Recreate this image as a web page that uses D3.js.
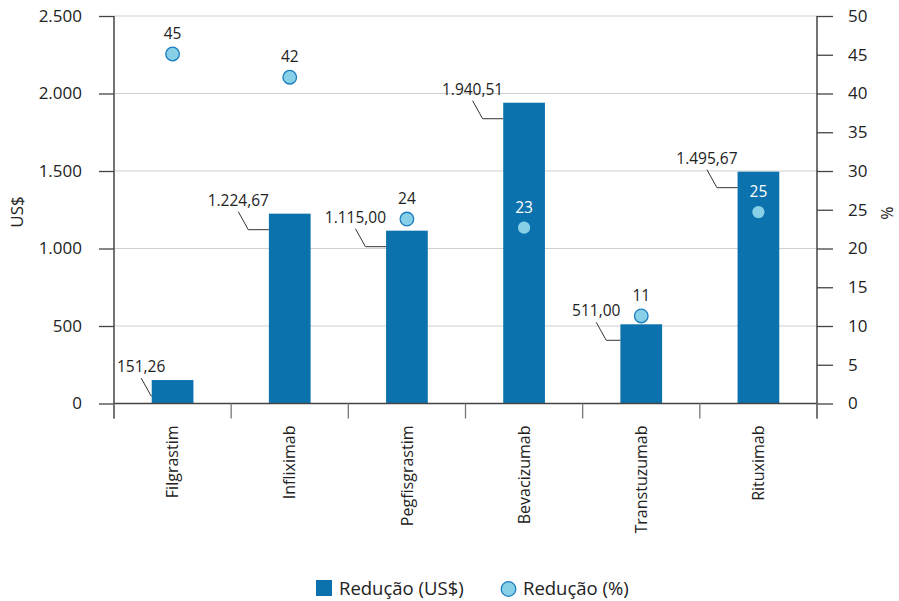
<!DOCTYPE html>
<html>
<head>
<meta charset="utf-8">
<script src="https://cdn.jsdelivr.net/npm/d3@7/dist/d3.min.js"></script>
<style>
  html, body { margin: 0; padding: 0; background: #fff; }
  svg { display: block; font-family: "Open Sans", "Noto Sans", sans-serif; }
</style>
</head>
<body>
<div id="chart"></div>
<script>
// ---- data ----
const categories = ["Filgrastim", "Infliximab", "Pegfisgrastim", "Bevacizumab", "Transtuzumab", "Rituximab"];
const reductionUSD = [151.26, 1224.67, 1115.00, 1940.51, 511.00, 1495.67];
const reductionPct = [45.1, 42.1, 23.8, 22.7, 11.3, 24.7];
const pctLabels = ["45", "42", "24", "23", "11", "25"];
const leftTicks = [0, 500, 1000, 1500, 2000, 2500];
const rightTicks = [0, 5, 10, 15, 20, 25, 30, 35, 40, 45, 50];
const seriesNames = ["Redução (US$)", "Redução (%)"];
const axisTitles = ["US$", "%"];

// ---- layout ----
const W = 899, H = 601;
const x0 = 114, x1 = 817, yTop = 16, yBase = 403.5;
const barColor = "#0b72ad", ptFill = "#88cfe8", ptStroke = "#1a7dbf";
const txt = "#222";

const ptBR = d3.formatLocale({decimal: ",", thousands: ".", grouping: [3], currency: ["", ""]});
const fmtVal = ptBR.format(",.2f");
const fmtTick = ptBR.format(",.0f");

const svg = d3.select("#chart").append("svg").attr("width", W).attr("height", H);

const x = d3.scaleBand().domain(categories).range([x0, x1]).padding(0);
const yL = d3.scaleLinear().domain([0, 2500]).range([yBase, yTop]);
const yR = d3.scaleLinear().domain([0, 50]).range([yBase, yTop]);
const bw = x.bandwidth() * 0.356;

// gridlines
svg.append("g").selectAll("line").data(leftTicks.filter(d => d > 0)).join("line")
  .attr("x1", x0).attr("x2", x1).attr("y1", d => yL(d)).attr("y2", d => yL(d))
  .attr("stroke", "#cfcfcf").attr("stroke-width", 1);

// bars
const barsG = svg.append("g");
categories.forEach((c, i) => {
  const v = reductionUSD[i];
  barsG.append("rect")
    .attr("x", x(c) + x.bandwidth() / 2 - bw / 2)
    .attr("y", yL(v))
    .attr("width", bw)
    .attr("height", yBase - yL(v))
    .attr("fill", barColor);
});

// axes
const axisColor = "#444";
const gL = svg.append("g").attr("transform", `translate(${x0},0)`)
  .call(d3.axisLeft(yL).tickValues(leftTicks).tickSize(15).tickPadding(17).tickFormat(fmtTick));
const gR = svg.append("g").attr("transform", `translate(${x1},0)`)
  .call(d3.axisRight(yR).tickValues(rightTicks).tickSize(16).tickPadding(15).tickFormat(d3.format("d")));
[gL, gR].forEach(g => {
  g.select(".domain").remove();
  g.selectAll("line").attr("stroke", axisColor).attr("stroke-width", 1.3);
  g.selectAll("text").attr("fill", txt).attr("font-size", 17).attr("font-family", "'Open Sans', sans-serif");
});
// vertical axis lines (extend below baseline)
svg.append("line").attr("x1", x0).attr("x2", x0).attr("y1", yTop).attr("y2", yBase + 15)
  .attr("stroke", axisColor).attr("stroke-width", 1.5);
svg.append("line").attr("x1", x1).attr("x2", x1).attr("y1", yTop).attr("y2", yBase + 15)
  .attr("stroke", axisColor).attr("stroke-width", 1.5);

// bottom axis
const gB = svg.append("g").attr("transform", `translate(0,${yBase})`)
  .call(d3.axisBottom(x).tickSize(0).tickPadding(0));
gB.select(".domain").remove();
gB.selectAll(".tick line").remove();
gB.selectAll(".tick text")
  .attr("transform", "translate(0,22) rotate(-90)")
  .attr("text-anchor", "end").attr("dy", "0.35em").attr("y", 0).attr("x", 0)
  .attr("fill", txt).attr("font-size", 16).attr("font-family", "'Open Sans', sans-serif");
svg.append("line").attr("x1", x0).attr("x2", x1).attr("y1", yBase).attr("y2", yBase)
  .attr("stroke", axisColor).attr("stroke-width", 1.5);
// band boundary ticks
const bounds = categories.map(c => x(c)).concat([x1]);
svg.append("g").selectAll("line").data(bounds).join("line")
  .attr("x1", d => d).attr("x2", d => d).attr("y1", yBase).attr("y2", yBase + 15)
  .attr("stroke", "#777").attr("stroke-width", 1.3);

// bar value labels with leader lines
const lab = svg.append("g");
categories.forEach((c, i) => {
  const v = reductionUSD[i];
  const left = x(c) + x.bandwidth() / 2 - bw / 2;
  const top = yL(v);
  const base = top - 8;
  const t = lab.append("text").text(fmtVal(v))
    .attr("font-size", 15.5).attr("fill", txt).attr("text-anchor", "end")
    .attr("x", left).attr("y", base);
  let w = t.node().getComputedTextLength();
  let rightX = left;
  if (left - w < x0 + 3) rightX = x0 + 3 + w;
  t.attr("x", rightX);
  const cx = rightX - w / 2;
  const hy = top + 16;
  lab.append("path")
    .attr("d", `M${cx},${base + 6}L${cx + 10},${hy}L${left},${hy}`)
    .attr("fill", "none").attr("stroke", "#333").attr("stroke-width", 1);
});

// points
const pts = svg.append("g");
categories.forEach((c, i) => {
  const cx = x(c) + x.bandwidth() / 2;
  const cy = yR(reductionPct[i]);
  const inside = cy > yL(reductionUSD[i]);
  pts.append("circle").attr("cx", cx).attr("cy", cy).attr("r", 6.8)
    .attr("fill", ptFill).attr("stroke", inside ? barColor : ptStroke).attr("stroke-width", 1.3);
  pts.append("text").text(pctLabels[i])
    .attr("x", cx).attr("y", cy - 15).attr("text-anchor", "middle")
    .attr("font-size", 15.5).attr("fill", inside ? "#fff" : txt);
});

// axis titles
svg.append("text").text(axisTitles[0])
  .attr("transform", `translate(23,212) rotate(-90)`).attr("text-anchor", "middle")
  .attr("font-size", 17).attr("fill", txt);
svg.append("text").text(axisTitles[1])
  .attr("transform", `translate(881,213) rotate(90)`).attr("text-anchor", "middle")
  .attr("font-size", 16).attr("fill", txt);

// legend
const lg = svg.append("g");
lg.append("rect").attr("x", 316).attr("y", 580).attr("width", 16).attr("height", 16).attr("fill", barColor);
lg.append("text").text(seriesNames[0]).attr("x", 339).attr("y", 595)
  .attr("font-size", 18.5).attr("fill", txt);
lg.append("circle").attr("cx", 508.5).attr("cy", 589).attr("r", 7.3)
  .attr("fill", ptFill).attr("stroke", ptStroke).attr("stroke-width", 1.3);
lg.append("text").text(seriesNames[1]).attr("x", 523).attr("y", 595)
  .attr("font-size", 18.5).attr("fill", txt);
</script>
</body>
</html>
